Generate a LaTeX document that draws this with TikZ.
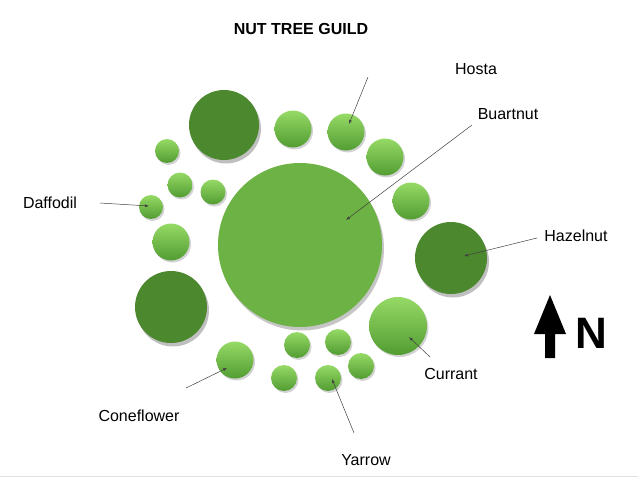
\documentclass[tikz,border=0pt]{standalone}
\usepackage{fontspec}
\setmainfont{Liberation Sans}
\usetikzlibrary{shadows,arrows.meta}
\definecolor{leaftop}{RGB}{150,218,102}
\definecolor{leafbot}{RGB}{82,156,50}
\definecolor{darkleaf}{RGB}{76,136,46}
\definecolor{lawn}{RGB}{108,178,68}

\begin{document}
\begin{tikzpicture}[x=1pt,y=-1pt]
	\tikzset{plant/.style={circle,inner sep=0pt,draw=none,top color=leaftop,bottom color=leafbot,
	    drop shadow={opacity=0.35,shadow xshift=1.5pt,shadow yshift=-2pt}}}
	\tikzset{nut/.style={circle,inner sep=0pt,draw=none,fill=darkleaf,
	    drop shadow={opacity=0.5,shadow xshift=2pt,shadow yshift=-3.5pt}}}
	\tikzset{tag/.style={font=\fontsize{16}{18}\selectfont}}
	\tikzset{pointer/.style={-{Latex[length=4pt,width=3pt]},line width=0.5pt,black!75}}

	\useasboundingbox (0,0) rectangle (638,479);
	\draw[black!12] (0,476) -- (638,476);

	\node[font=\bfseries\fontsize{16}{18}\selectfont] (title) at (301,29) {NUT TREE GUILD};

	% trees
	\node[circle,inner sep=0pt,minimum size=164pt,fill=lawn,
	    drop shadow={opacity=0.45,shadow xshift=2pt,shadow yshift=-3.5pt}] (buartnut) at (300,245) {};
	\node[nut,minimum size=70pt] (nutA) at (224,125) {};
	\node[nut,minimum size=72pt] (hazelnut) at (451,258) {};
	\node[nut,minimum size=72pt] (nutB) at (171,307) {};

	% shrubs and flowers
	\node[plant,minimum size=37pt] (p1) at (293,129) {};
	\node[plant,minimum size=37pt] (hosta) at (346,132) {};
	\node[plant,minimum size=37pt] (p2) at (385,157) {};
	\node[plant,minimum size=37pt] (p3) at (411,201) {};
	\node[plant,minimum size=24pt] (p4) at (167,151) {};
	\node[plant,minimum size=25pt] (p5) at (180,185) {};
	\node[plant,minimum size=25pt] (p6) at (213,192) {};
	\node[plant,minimum size=24pt] (daffodil) at (151,207) {};
	\node[plant,minimum size=37pt] (p7) at (171,242) {};
	\node[plant,minimum size=58pt] (currant) at (398,326) {};
	\node[plant,minimum size=37pt] (coneflower) at (235,360) {};
	\node[plant,minimum size=26pt] (p8) at (297,345) {};
	\node[plant,minimum size=26pt] (p9) at (338,342) {};
	\node[plant,minimum size=26pt] (p10) at (361,366) {};
	\node[plant,minimum size=26pt] (p11) at (284,378) {};
	\node[plant,minimum size=26pt] (yarrow) at (328,378) {};

	% labels
	\node[tag] (hostaLbl) at (476,69) {Hosta};
	\node[tag] (buartnutLbl) at (508,114) {Buartnut};
	\node[tag] (daffodilLbl) at (50,203) {Daffodil};
	\node[tag] (hazelnutLbl) at (576,236) {Hazelnut};
	\node[tag] (currantLbl) at (451,374) {Currant};
	\node[tag] (coneflowerLbl) at (139,416) {Coneflower};
	\node[tag] (yarrowLbl) at (366,460) {Yarrow};

	\coordinate (hostaEnd) at (368,77);
	\coordinate (buartnutEnd) at (472,125);
	\coordinate (daffodilEnd) at (100,203);
	\coordinate (hazelnutEnd) at (537,238);
	\coordinate (currantEnd) at (430,357);
	\coordinate (coneflowerEnd) at (186,388);
	\coordinate (yarrowEnd) at (354,433);

	\draw[pointer] (hostaEnd) -- ([shift={(3,-8)}]hosta.center);
	\draw[pointer] (buartnutEnd) -- ([shift={(46,-25)}]buartnut.center);
	\draw[pointer] (daffodilEnd) -- ([shift={(-2,-1)}]daffodil.center);
	\draw[pointer] (hazelnutEnd) -- ([shift={(13,-2)}]hazelnut.center);
	\draw[pointer] (currantEnd) -- ([shift={(11,11)}]currant.center);
	\draw[pointer] (coneflowerEnd) -- ([shift={(-8,8)}]coneflower.center);
	\draw[pointer] (yarrowEnd) -- ([shift={(4,1)}]yarrow.center);

	% north arrow
	\fill (545,358) -- (555,358) -- (555,334) -- (566,334) -- (550,295) -- (534,334) -- (545,334) -- cycle;
	\node[font=\bfseries\fontsize{44}{44}\selectfont] (north) at (591,333) {N};
\end{tikzpicture}
\end{document}
